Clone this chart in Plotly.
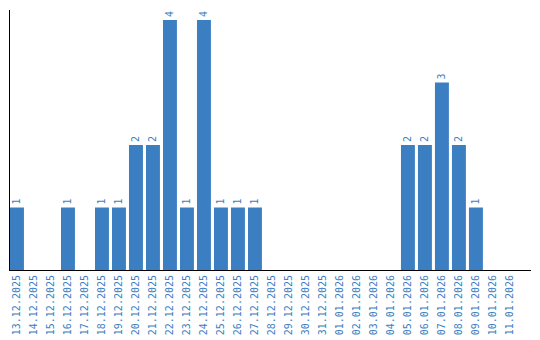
import plotly.graph_objects as go

dates = ["13.12.2025", "14.12.2025", "15.12.2025", "16.12.2025", "17.12.2025",
         "18.12.2025", "19.12.2025", "20.12.2025", "21.12.2025", "22.12.2025",
         "23.12.2025", "24.12.2025", "25.12.2025", "26.12.2025", "27.12.2025",
         "28.12.2025", "29.12.2025", "30.12.2025", "31.12.2025", "01.01.2026",
         "02.01.2026", "03.01.2026", "04.01.2026", "05.01.2026", "06.01.2026",
         "07.01.2026", "08.01.2026", "09.01.2026", "10.01.2026", "11.01.2026"]
counts = [1, 0, 0, 1, 0, 1, 1, 2, 2, 4, 1, 4, 1, 1, 1,
          0, 0, 0, 0, 0, 0, 0, 0, 2, 2, 3, 2, 1, 0, 0]

blue = "#3b7ec2"
labels = [str(v) if v > 0 else "" for v in counts]

fig = go.Figure(go.Bar(
    x=dates, y=counts, marker=dict(color=blue, line=dict(width=0)),
    text=labels, textposition="outside", textangle=-90,
    textfont=dict(family="DejaVu Sans Mono", size=10, color=blue),
    cliponaxis=False, width=0.82,
))
fig.update_layout(
    width=540, height=340, margin=dict(l=10, r=9, t=10, b=70),
    paper_bgcolor="white", plot_bgcolor="white", showlegend=False,
)
fig.update_xaxes(type="category", tickangle=-90, showline=True, linecolor="black",
                 linewidth=1, showgrid=False, ticks="", automargin=False,
                 range=[-0.41, 30.24],
                 tickfont=dict(family="DejaVu Sans Mono", size=10, color=blue))
fig.update_yaxes(range=[0, 4.16], showline=True, linecolor="black", linewidth=1,
                 showgrid=False, zeroline=False, showticklabels=False, ticks="",
                 automargin=False)
fig.write_html("out.html")
